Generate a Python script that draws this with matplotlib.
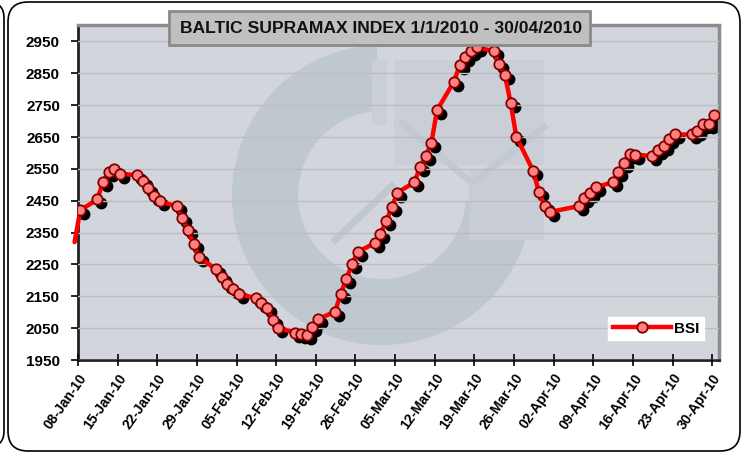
import matplotlib
matplotlib.use("Agg")
import matplotlib.pyplot as plt
import matplotlib.transforms as mtransforms
import matplotlib.dates as mdates
from matplotlib.patches import FancyBboxPatch, Wedge, Rectangle
from matplotlib.lines import Line2D
import pandas as pd

# BSI daily closes, first point is the lead-in before the axis start
dates = ['2010-01-07', '2010-01-08',
         '2010-01-11', '2010-01-12', '2010-01-13', '2010-01-14', '2010-01-15',
         '2010-01-18', '2010-01-19', '2010-01-20', '2010-01-21', '2010-01-22',
         '2010-01-25', '2010-01-26', '2010-01-27', '2010-01-28', '2010-01-29',
         '2010-02-01', '2010-02-02', '2010-02-03', '2010-02-04', '2010-02-05',
         '2010-02-08', '2010-02-09', '2010-02-10', '2010-02-11', '2010-02-12',
         '2010-02-15', '2010-02-16', '2010-02-17', '2010-02-18', '2010-02-19',
         '2010-02-22', '2010-02-23', '2010-02-24', '2010-02-25', '2010-02-26',
         '2010-03-01', '2010-03-02', '2010-03-03', '2010-03-04', '2010-03-05',
         '2010-03-08', '2010-03-09', '2010-03-10', '2010-03-11', '2010-03-12',
         '2010-03-15', '2010-03-16', '2010-03-17', '2010-03-18', '2010-03-19',
         '2010-03-22', '2010-03-23', '2010-03-24', '2010-03-25', '2010-03-26',
         '2010-03-29', '2010-03-30', '2010-03-31', '2010-04-01',
         '2010-04-06', '2010-04-07', '2010-04-08', '2010-04-09',
         '2010-04-12', '2010-04-13', '2010-04-14', '2010-04-15', '2010-04-16',
         '2010-04-19', '2010-04-20', '2010-04-21', '2010-04-22', '2010-04-23',
         '2010-04-26', '2010-04-27', '2010-04-28', '2010-04-29', '2010-04-30']
bsi = [2320, 2420,
       2454, 2508, 2541, 2548, 2535,
       2530, 2513, 2490, 2466, 2449,
       2432, 2396, 2358, 2314, 2272,
       2235, 2212, 2188, 2172, 2157,
       2144, 2130, 2113, 2076, 2050,
       2036, 2032, 2029, 2055, 2078,
       2102, 2158, 2205, 2251, 2289,
       2317, 2346, 2385, 2429, 2475,
       2508, 2555, 2590, 2630, 2734,
       2824, 2875, 2900, 2920, 2931,
       2920, 2879, 2844, 2758, 2651,
       2543, 2477, 2433, 2415,
       2433, 2459, 2475, 2492,
       2508, 2541, 2569, 2598, 2595,
       2590, 2609, 2621, 2645, 2658,
       2658, 2669, 2690, 2692, 2718]
tick_dates = pd.date_range('2010-01-08', '2010-04-30', freq='7D')
tick_labels = [d.strftime('%d-%b-%y') for d in tick_dates]
y_ticks = list(range(1950, 3000, 100))
title = 'BALTIC SUPRAMAX INDEX 1/1/2010 - 30/04/2010'

plt.rcParams['font.family'] = ['Liberation Sans', 'DejaVu Sans']
plt.rcParams['font.weight'] = 'bold'

W, H = 744, 457
fig = plt.figure(figsize=(W / 100, H / 100), dpi=100)
fig.patch.set_facecolor('white')
px = mtransforms.Affine2D().scale(1 / W, -1 / H).translate(0, 1) + fig.transFigure

# rounded chart frames (neighbour edge + this chart)
fig.patches.append(FancyBboxPatch((-60, 2), 64, 445, boxstyle='round,pad=0,rounding_size=16',
                                  fc='none', ec='black', lw=1.2, transform=px))
fig.patches.append(FancyBboxPatch((8, 2), 732, 449, boxstyle='round,pad=0,rounding_size=20',
                                  fc='none', ec='black', lw=1.2, transform=px))

ax = fig.add_axes([78 / W, 1 - 360 / H, (719 - 78) / W, (360 - 25.5) / H])
ax.set_facecolor('#D3D5DD')

# faint logo watermark
wm = '#BFC7CF'
ax.add_patch(Wedge((382, 195), 150, 5, 268, width=66, fc=wm, ec='none', transform=px, zorder=0.5))
ax.add_patch(Rectangle((394, 60), 150, 105, fc='#CACFD7', ec='none', transform=px, zorder=0.5))
ax.add_patch(Rectangle((372, 60), 15, 65, fc='#CACFD7', ec='none', transform=px, zorder=0.5))
ax.add_patch(Rectangle((469, 170), 75, 70, fc='#C8CDD5', ec='none', transform=px, zorder=0.5))
ax.add_line(Line2D([402, 472, 544], [123, 183, 127], color='#C2C9D0', lw=5, transform=px, zorder=0.6))
ax.add_line(Line2D([335, 392], [240, 186], color=wm, lw=5, transform=px, zorder=0.6))

x = mdates.date2num(pd.to_datetime(dates))
shift = 0.4
xt = mdates.date2num(tick_dates) - shift

shadow = mtransforms.offset_copy(ax.transData, fig=fig, x=4, y=-4, units='dots')
ax.plot(x[1:], bsi[1:], 'o', ms=7.5, color='black', transform=shadow, zorder=2)
ax.plot(x, bsi, '-', color='red', lw=3.2, zorder=3, clip_on=False, solid_capstyle='round')
ax.plot(x[1:], bsi[1:], 'o', ms=7.5, mfc='#FF8080', mec='#800000', mew=1.3, zorder=4, ls='none')

ax.set_xlim(xt[0], xt[0] + 113.2)
ax.set_ylim(1950, 3000)
ax.set_xticks(xt)
ax.set_xticklabels(tick_labels, rotation=55, ha='right', rotation_mode='anchor', fontsize=10)
ax.set_yticks(y_ticks)
ax.set_yticklabels([str(v) for v in y_ticks], fontsize=11)
ax.yaxis.grid(True, color='#BDBDBD', lw=1)
ax.set_axisbelow(False)
for gl in ax.get_ygridlines():
    gl.set_zorder(1)
ax.tick_params(axis='x', direction='inout', length=8, width=1.2, pad=4)
ax.tick_params(axis='y', direction='out', length=5, width=1.2, pad=8)
ax.spines['left'].set_color('#222222')
ax.spines['bottom'].set_color('#222222')
ax.spines['left'].set_linewidth(2)
ax.spines['bottom'].set_linewidth(2)
ax.spines['top'].set_color('#8C8C8C')
ax.spines['right'].set_color('#8C8C8C')
ax.spines['top'].set_linewidth(2.5)
ax.spines['right'].set_linewidth(2.5)

handle = Line2D([], [], color='red', lw=3.2, marker='o', ms=7.5, mfc='#FF8080', mec='#800000', mew=1.3)
leg = ax.legend([handle], ['BSI'], loc='lower right', bbox_to_anchor=(0.988, 0.036),
                frameon=True, fancybox=False, facecolor='white', edgecolor='white',
                framealpha=1, handlelength=3.8, handletextpad=0.2, borderpad=0.3,
                prop={'size': 11, 'weight': 'bold'})
leg.set_zorder(6)

# title box
fig.patches.append(Rectangle((169, 11), 421, 34, fc='#C0C0C0', ec='#8A8A8A', lw=2,
                             transform=px, zorder=5))
fig.text(381 / W, 1 - 28.5 / H, title, ha='center', va='center', fontsize=12.6,
         fontweight='bold', color='#111111', zorder=6)

plt.savefig('out.png', dpi=100, facecolor='white')
